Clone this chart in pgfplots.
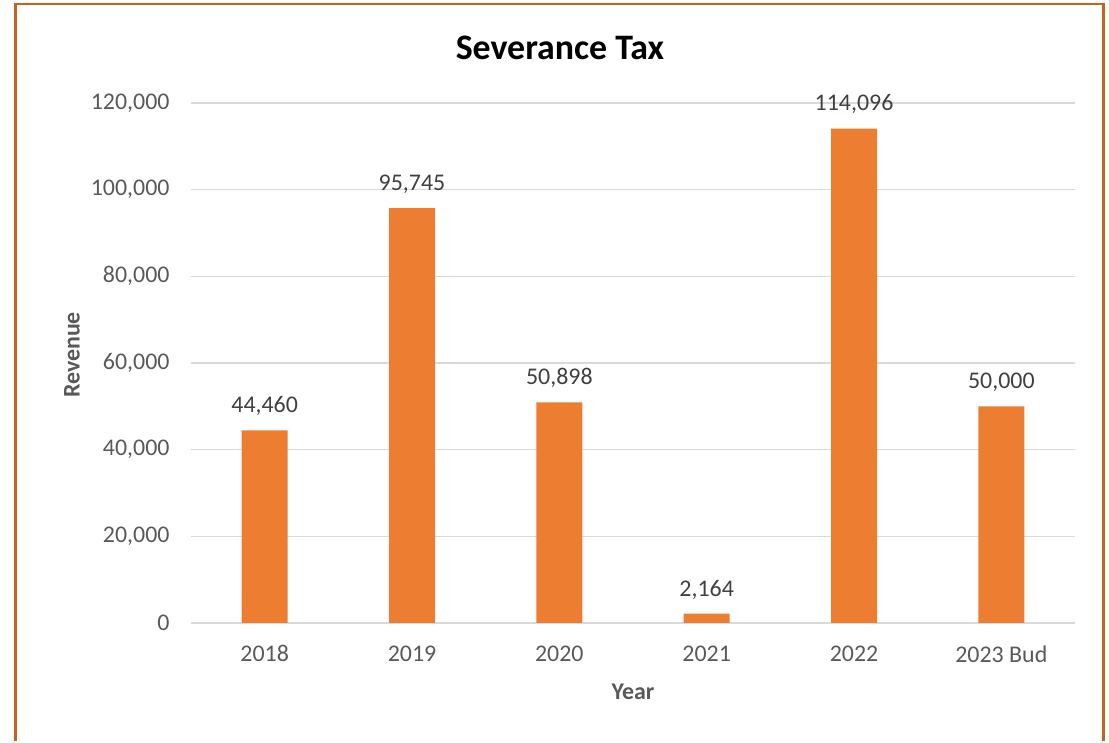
\documentclass[border=0pt]{standalone}
\usepackage{pgfplots}
\pgfplotsset{compat=1.18}
\usepackage{fontspec}
\setmainfont{Carlito}
\definecolor{barorange}{HTML}{ED7D31}
\definecolor{frameorange}{HTML}{C9631C}
\definecolor{gridgray}{HTML}{D9D9D9}
\definecolor{ticktext}{HTML}{595959}
\definecolor{labeltext}{HTML}{404040}
\begin{document}
\begin{tikzpicture}[x=1bp,y=1bp]
\path (0,0) rectangle (1109,739);
\draw[frameorange, line width=2.5bp] (15.5,-2) -- (15.5,735) -- (1103.5,735) -- (1103.5,-2);
\begin{axis}[
  at={(191bp,116bp)}, anchor=south west,
  scale only axis, width=884bp, height=520bp,
  ymin=0, ymax=120000,
  xmin=-0.5, xmax=5.5,
  xtick=data,
  xticklabels={2018,2019,2020,2021,2022,2023 Bud},
  ytick={0,20000,40000,60000,80000,100000,120000},
  yticklabels={0,{20,000},{40,000},{60,000},{80,000},{100,000},{120,000}},
  scaled y ticks=false,
  axis line style={draw=none},
  axis x line*=bottom,
  x axis line style={draw=gridgray, line width=1.5bp},
  ymajorgrids, grid style={gridgray, line width=1.3bp},
  major tick length=0pt,
  tick label style={font=\fontsize{24}{28}\selectfont, text=ticktext},
  yticklabel style={xshift=-18bp},
  xticklabel style={yshift=-19bp},
  ybar, bar width=46bp,
  point meta=explicit symbolic,
  nodes near coords,
  every node near coord/.append style={font=\fontsize{24}{28}\selectfont, text=labeltext, yshift=11bp},
  clip=false,
]
\addplot[fill=barorange, draw=none] coordinates {
  (0,44460) [44,460]
  (1,95745) [95,745]
  (2,50898) [50,898]
  (3,2164) [2,164]
  (4,114096) [114,096]
  (5,50000) [50,000]
};
\end{axis}
\node[font=\fontsize{36}{40}\selectfont\bfseries] at (560,691) {Severance Tax};
\node[font=\fontsize{24}{28}\selectfont\bfseries, text=ticktext, rotate=90] at (72,384) {Revenue};
\node[font=\fontsize{24}{28}\selectfont\bfseries, text=ticktext] at (633,47) {Year};
\end{tikzpicture}
\end{document}
